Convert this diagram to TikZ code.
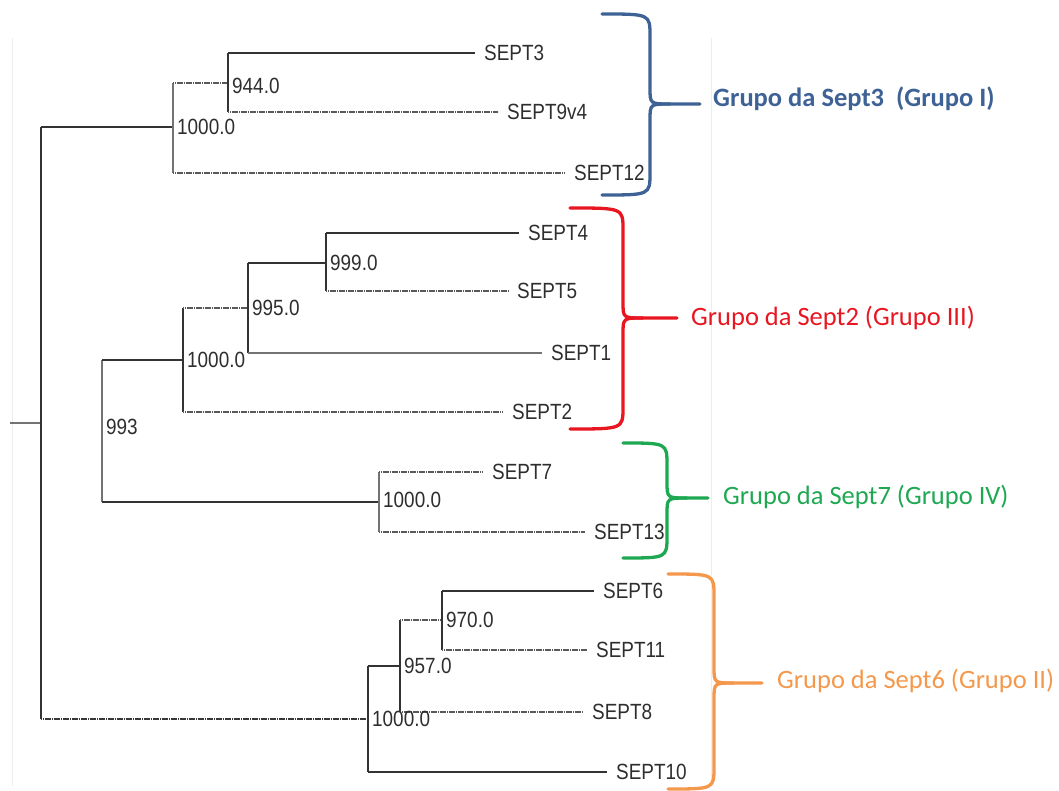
\documentclass[tikz,border=0pt]{standalone}
\usepackage{fontspec}
\setmainfont{Liberation Sans}
\newfontfamily\treefont[FakeStretch=0.86]{Liberation Sans}
\newfontfamily\grpfont{Carlito}
\definecolor{cblue}{RGB}{62,98,150}
\definecolor{cred}{RGB}{232,22,32}
\definecolor{cgreen}{RGB}{30,168,82}
\definecolor{corange}{RGB}{243,152,76}
\newcommand\grpbrace[7]{%
  \draw[brace,#1] (#2,#3) .. controls (#4,#3) .. (#4,#3+22) -- (#4,#5-16) .. controls (#4,#5) .. (#4+20,#5) -- (#6,#5);
  \draw[brace,#1] (#4+20,#5) .. controls (#4,#5) .. (#4,#5+16) -- (#4,#7-22) .. controls (#4,#7) .. (#2,#7);}
\begin{document}
\begin{tikzpicture}[x=1pt,y=-1pt,
  br/.style={draw=black!80, line width=1.6pt},
  dt/.style={draw=black!65, line width=1.6pt, dash pattern=on 1.3pt off 0.5pt},
  lt/.style={draw=black!55, line width=1.4pt},
  leaf/.style={anchor=west, inner xsep=9pt, inner ysep=0pt, font=\treefont\fontsize{22}{22}\selectfont, text=black!82},
  bs/.style={anchor=west, inner xsep=4pt, inner ysep=0pt, font=\treefont\fontsize{22}{22}\selectfont, text=black!82},
  brace/.style={line width=3.3pt, line cap=round, line join=round},
  grp/.style={anchor=west, inner sep=0pt, font=\grpfont\fontsize{26.5}{26.5}\selectfont}]
\useasboundingbox (0,0) rectangle (1059,791);
% faint frame of the tree picture
\draw[black!7, line width=0.8pt] (12,38) -- (12,786);
\draw[black!7, line width=0.8pt] (711,38) -- (711,786);
% junctions
\coordinate (rs) at (10,423);
\coordinate (R) at (41,423);
\coordinate (A) at (173,127);
\coordinate (B) at (228,83);
\coordinate (N993) at (102,423);
\coordinate (C) at (183,360);
\coordinate (D) at (248,308);
\coordinate (E) at (326,263);
\coordinate (G) at (379,502);
\coordinate (N10) at (368,719);
\coordinate (H) at (400,666);
\coordinate (I) at (442,620);
% leaves
\node[leaf] (s3) at (475,53) {SEPT3};
\node[leaf] (s9) at (498,112) {SEPT9v4};
\node[leaf] (s12) at (565,173) {SEPT12};
\node[leaf] (s4) at (519,233) {SEPT4};
\node[leaf] (s5) at (508,291) {SEPT5};
\node[leaf] (s1) at (542,353) {SEPT1};
\node[leaf] (s2) at (503,412) {SEPT2};
\node[leaf] (s7) at (483,472) {SEPT7};
\node[leaf] (s13) at (585,532) {SEPT13};
\node[leaf] (s6) at (594,591) {SEPT6};
\node[leaf] (s11) at (587,650) {SEPT11};
\node[leaf] (s8) at (583,712) {SEPT8};
\node[leaf] (s10) at (607,772) {SEPT10};
% root
\draw[lt] (rs) -- (R);
\draw[br] (R |- A) -- (R |- N10);
\draw[br] (R |- A) -- (A);
\draw[dt,draw=black!78] (R |- N10) -- (N10);
% group I
\draw[lt] (A |- B) -- (A |- s12);
\draw[dt] (A |- B) -- (B);
\draw[dt] (A |- s12) -- (s12.west);
\draw[br] (B |- s3) -- (B |- s9);
\draw[br] (B |- s3) -- (s3.west);
\draw[dt] (B |- s9) -- (s9.west);
% 993 clade
\draw[lt] (N993 |- C) -- (N993 |- G);
\draw[br] (N993 |- C) -- (C);
\draw[br] (N993 |- G) -- (G);
\draw[br] (C |- D) -- (C |- s2);
\draw[dt] (C |- D) -- (D);
\draw[dt] (C |- s2) -- (s2.west);
\draw[br] (D |- E) -- (D |- s1);
\draw[br] (D |- E) -- (E);
\draw[lt] (D |- s1) -- (s1.west);
\draw[br] (E |- s4) -- (E |- s5);
\draw[br] (E |- s4) -- (s4.west);
\draw[dt] (E |- s5) -- (s5.west);
\draw[lt] (G |- s7) -- (G |- s13);
\draw[dt] (G |- s7) -- (s7.west);
\draw[dt] (G |- s13) -- (s13.west);
% group II
\draw[br] (N10 |- H) -- (N10 |- s10);
\draw[br] (N10 |- H) -- (H);
\draw[br] (N10 |- s10) -- (s10.west);
\draw[br] (H |- I) -- (H |- s8);
\draw[dt] (H |- I) -- (I);
\draw[dt] (H |- s8) -- (s8.west);
\draw[br] (I |- s6) -- (I |- s11);
\draw[br] (I |- s6) -- (s6.west);
\draw[dt] (I |- s11) -- (s11.west);
% bootstrap values
\node[bs] (bA) at (A) {1000.0};
\node[bs] (bB) at ([yshift=-3]B) {944.0};
\node[bs] (bE) at (E) {999.0};
\node[bs] (bD) at (D) {995.0};
\node[bs] (bC) at (C) {1000.0};
\node[bs] (b993) at ([yshift=-4]N993) {993};
\node[bs] (bG) at ([yshift=2]G) {1000.0};
\node[bs] (bI) at (I) {970.0};
\node[bs] (bH) at (H) {957.0};
\node[bs] (bN10) at (N10) {1000.0};
% braces
\grpbrace{cblue}{602}{14}{650}{104}{700}{195}
\grpbrace{cred}{570}{208}{623}{318}{677}{429}
\grpbrace{cgreen}{623}{443}{667}{498}{708}{558}
\grpbrace{corange}{668}{574}{714}{683}{762}{789}
% group labels
\node[grp, text=cblue] (g1) at (713,99) {\bfseries Grupo da Sept3\ \ (Grupo I)};
\node[grp, text=cred] (g3) at (691,318) {Grupo da Sept2 (Grupo III)};
\node[grp, text=cgreen] (g4) at (723,497) {Grupo da Sept7 (Grupo IV)};
\node[grp, text=corange] (g2) at (777,681) {Grupo da Sept6 (Grupo II)};
\end{tikzpicture}
\end{document}
